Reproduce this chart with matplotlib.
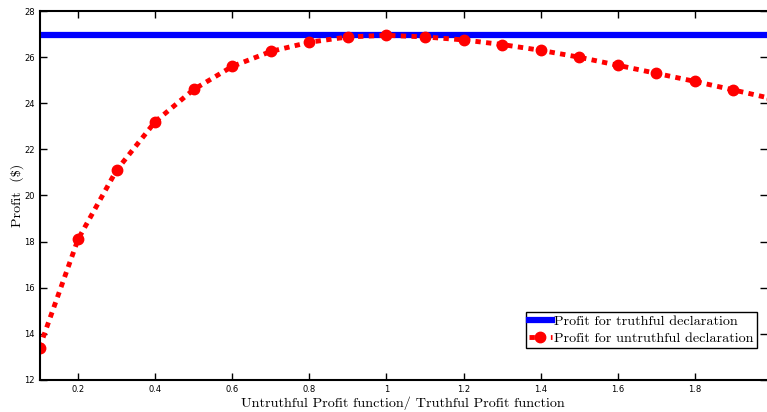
import matplotlib.pyplot as plt
import numpy as np

ratio = [0.1, 0.2, 0.3, 0.4, 0.5, 0.6, 0.7, 0.8, 0.9, 1.0,
         1.1, 1.2, 1.3, 1.4, 1.5, 1.6, 1.7, 1.8, 1.9, 2.0]
profit_untruthful = [13.4, 18.1, 21.1, 23.2, 24.6, 25.6, 26.25, 26.65, 26.88, 26.95,
                     26.88, 26.75, 26.55, 26.3, 26.0, 25.65, 25.3, 24.95, 24.58, 24.2]
profit_truthful = 26.95

fig = plt.figure(figsize=(7.67, 4.12), dpi=100)
ax = fig.add_axes([0.0515, 0.078, 0.9485, 0.895])

ax.axhline(profit_truthful, color='blue', linewidth=4.5, label='Profit for truthful declaration')
ax.plot(ratio, profit_untruthful, color='red', linewidth=3.5, linestyle=(0, (1.1, 1.1)),
        dash_capstyle='butt', marker='o', markersize=7.5, label='Profit for untruthful declaration')

ax.set_xlim(0.1, 1.987)
ax.set_ylim(12, 28)
ax.set_xticks(np.arange(0.2, 1.81, 0.2))
ax.set_xticklabels(['0.2', '0.4', '0.6', '0.8', '1', '1.2', '1.4', '1.6', '1.8'])
ax.set_yticks(np.arange(12, 29, 2))
ax.tick_params(direction='in', length=5, width=1, labelsize=6, top=True, right=True)
for s in ax.spines.values():
    s.set_linewidth(1.5)
ax.spines['right'].set_visible(False)  # cut off in the original

ax.set_xlabel('Untruthful Profit function/ Truthful Profit function', fontfamily='cmr10', fontsize=10.2, labelpad=2)
ax.set_ylabel('Profit  ($)', fontfamily='cmr10', fontsize=10.2, labelpad=0)

leg = ax.legend(loc='lower right', bbox_to_anchor=(0.986, 0.087), prop={'family': 'cmr10', 'size': 10.2},
                fancybox=False, edgecolor='black', framealpha=1, handlelength=1.6,
                handletextpad=0.2, borderpad=0.2, labelspacing=0.3, borderaxespad=0)
leg.get_frame().set_linewidth(1)

fig.savefig('out.png', dpi=100)
